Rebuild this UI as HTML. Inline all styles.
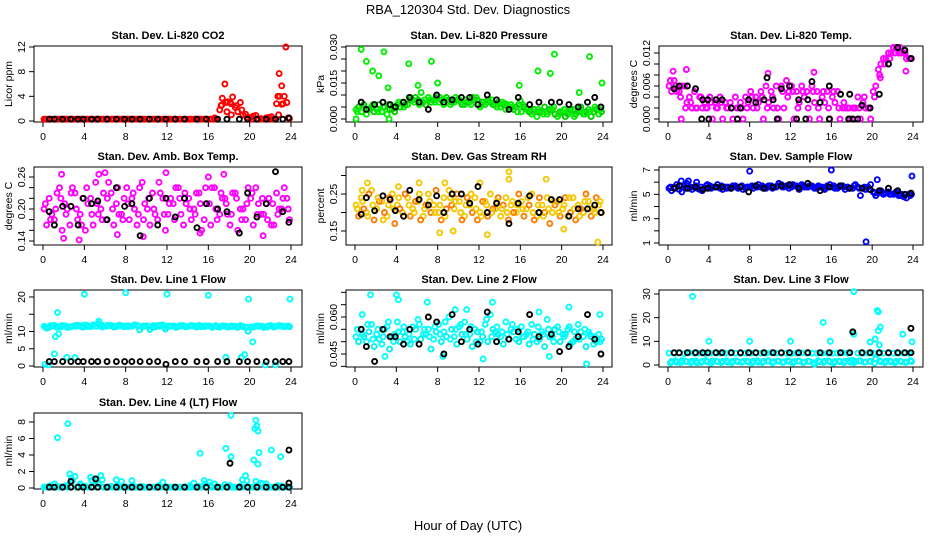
<!DOCTYPE html>
<html><head><meta charset="utf-8"><title>RBA_120304 Std. Dev. Diagnostics</title>
<style>
html,body{margin:0;padding:0;background:#fff;}
svg{display:block;font-family:"Liberation Sans",Arial,sans-serif;}
.t{font-size:11px;font-weight:bold;text-anchor:middle;}
.tk{font-size:10.5px;text-anchor:middle;}
</style></head>
<body>
<svg id="chart" width="936" height="540" viewBox="0 0 936 540" xmlns="http://www.w3.org/2000/svg">
<text x="468" y="14" font-size="13" text-anchor="middle">RBA_120304  Std. Dev. Diagnostics</text>
<text x="468" y="530" font-size="13" text-anchor="middle">Hour of Day (UTC)</text>
</svg>
<script>
// shared time arrays (hours)
const hoursA=[0.1,0.6,1.1,1.6,2.1,2.6,3.1,3.6,4.1,4.6,5.1,5.6,6.1,6.6,7.1,7.6,8.1,8.6,9.1,9.6,10.1,10.6,11.1,11.6,12.1,12.6,13.1,13.6,14.1,14.6,15.1,15.6,16.1,16.6,17.1,17.6,18.1,18.6,19.1,19.6,20.1,20.6,21.1,21.6,22.1,22.6,23.1,23.6];
const hoursB=[0.35,0.85,1.35,1.85,2.35,2.85,3.35,3.85,4.35,4.85,5.35,5.85,6.35,6.85,7.35,7.85,8.35,8.85,9.35,9.85,10.35,10.85,11.35,11.85,12.35,12.85,13.35,13.85,14.35,14.85,15.35,15.85,16.35,16.85,17.35,17.85,18.35,18.85,19.35,19.85,20.35,20.85,21.35,21.85,22.35,22.85,23.35,23.85];
const hoursC=[0.23,0.73,1.23,1.73,2.23,2.73,3.23,3.73,4.23,4.73,5.23,5.73,6.23,6.73,7.23,7.73,8.23,8.73,9.23,9.73,10.23,10.73,11.23,11.73,12.23,12.73,13.23,13.73,14.23,14.73,15.23,15.73,16.23,16.73,17.23,17.73,18.23,18.73,19.23,19.73,20.23,20.73,21.23,21.73,22.23,22.73,23.23,23.73];
const hoursBlack=[0.6,1.1,1.9,2.7,3.4,3.9,4.7,5.3,6.2,7.1,7.9,8.6,9.4,10.3,11.1,11.9,12.8,13.7,14.9,15.8,16.9,17.8,19.0,19.8,20.7,21.6,22.5,23.2,23.8];
const xTicks=[0,4,8,12,16,20,24];

// CO2
const co2A=[0.3,0.3,0.3,0.3,0.3,0.3,0.3,0.3,0.3,0.3,0.3,0.3,0.3,0.3,0.3,0.3,0.3,0.3,0.3,0.3,0.3,0.3,0.3,0.3,0.3,0.3,0.3,0.3,0.3,0.3,0.3,0.3,0.3,0.5,1.8,6.0,3.0,2.2,3.0,1.1,0.6,0.9,0.4,0.5,0.7,2.8,5.7,3.0];
const co2B=[0.3,0.3,0.3,0.3,0.3,0.3,0.3,0.3,0.3,0.3,0.3,0.3,0.3,0.3,0.3,0.3,0.3,0.3,0.3,0.3,0.3,0.3,0.3,0.3,0.3,0.3,0.3,0.3,0.3,0.3,0.3,0.3,0.3,0.3,3.7,3.1,3.9,1.5,1.0,0.3,0.8,0.3,0.3,0.6,0.3,7.7,4.0,0.4];
const co2C=[0.3,0.3,0.3,0.3,0.3,0.3,0.3,0.3,0.3,0.3,0.3,0.3,0.3,0.3,0.3,0.3,0.3,0.3,0.3,0.3,0.3,0.3,0.3,0.3,0.3,0.3,0.3,0.3,0.3,0.3,0.3,0.3,0.3,0.3,2.5,3.0,1.0,2.5,1.8,0.6,0.3,0.3,0.3,0.3,0.3,4.0,2.8,0.5];
const co2OutT=[17.3,17.8,18.2,22.9,23.1,23.5,22.8];
const co2OutV=[2.6,1.5,2.8,4.0,2.7,12.0,1.0];
const co2Black=[0.3,0.3,0.3,0.3,0.3,0.3,0.3,0.3,0.3,0.3,0.3,0.3,0.3,0.3,0.3,0.3,0.3,0.3,0.3,0.3,0.3,0.3,0.3,0.3,0.3,0.3,0.3,0.3,0.5];

// Pressure
const presA=[.004,.003,.002,.005,.004,.003,.002,.004,.006,.007,.006,.008,.008,.007,.009,.008,.007,.006,.008,.007,.008,.006,.007,.008,.005,.006,.007,.006,.005,.004,.006,.005,.003,.004,.002,.001,.003,.002,.004,.001,.003,.002,.004,.003,.002,.004,.003,.002];
const presB=[.005,.006,.004,.003,.006,.005,.004,.003,.005,.006,.008,.009,.007,.006,.007,.009,.008,.009,.007,.008,.006,.007,.009,.008,.007,.008,.006,.007,.006,.005,.004,.006,.005,.003,.004,.003,.005,.004,.002,.003,.001,.004,.002,.005,.003,.001,.004,.003];
const presC=[.003,.005,.004,.006,.003,.005,.006,.005,.007,.005,.009,.007,.006,.008,.008,.007,.009,.008,.006,.009,.007,.008,.006,.009,.006,.007,.008,.005,.007,.006,.005,.003,.006,.004,.003,.004,.002,.003,.005,.002,.004,.003,.001,.004,.002,.003,.005,.004];
const presOutT=[0.6,1.1,1.7,2.3,2.8,3.2,5.2,6.1,6.4,7.4,8.0,15.9,17.7,18.9,19.3,21.7,22.7,23.9,16.0,0.1,3.3,14.5];
const presOutV=[.029,.024,.020,.018,.028,.013,.023,.014,.011,.024,.015,.014,.020,.019,.027,.011,.026,.015,.0075,0,0,.0065];
const presBlack=[.007,.004,.006,.007,.006,.005,.007,.009,.007,.004,.010,.007,.008,.009,.009,.006,.010,.008,.004,.009,.006,.007,.007,.007,.006,.005,.007,.009,.005];

// Li-820 temp
const tempA=[.006,.007,.005,.006,.004,.005,.004,.003,.004,.003,.004,.003,.003,.004,.003,.004,.005,.004,.005,.006,.005,.006,.006,.007,.006,.005,.006,.005,.006,.005,.004,.005,.004,.005,.002,.002,.002,.004,.003,.002,.005,.009,.011,.012,.013,.012,.012,.011];
const tempB=[.005,.005,.006,.003,.002,.002,.002,.002,0,.002,0,.002,0,.002,0,.003,.002,.003,0,.003,.002,0,.002,.005,0,.003,.004,0,.003,0,.003,0,.003,0,.002,0,.002,0,.002,0,.006,.010,.011,.012,.013,.012,.011,.011];
const tempC=[.007,.006,.004,.002,.003,.002,.004,.002,.003,.002,.003,.002,.002,.002,.002,.002,.004,.002,.004,.002,.004,.002,.005,.004,.005,.002,.005,.002,.005,.002,.005,.002,.005,.002,.003,.002,.002,.002,.004,.002,.004,.008,.010,.011,.012,.013,.012,.011];
const tempOutT=[0.5,1.3,1.8,9.8,14.3,22.1,23.3,20.8];
const tempOutV=[.0087,0,.009,.0083,.0085,.013,.0087,.0075];
const tempBlack=[.0055,.006,.006,.0055,.0035,.0035,.0035,.0035,.002,.002,.0035,.003,.0035,.0035,.0055,.006,.0035,.0035,.003,.006,.0045,.0045,.0025,.002,.0045,.010,.013,.0125,.011];
const tempBlackOutT=[3.3,4.0,6.8,10.7,12.6,13.5,15.8,17.7,18.1,18.6,9.7,14.1];
const tempBlackOutV=[0,0,0,0,0,0,0,0,0,0,.0075,.0068];

// Ambient box temp
const ambA=[.20,.22,.18,.24,.21,.17,.23,.19,.16,.22,.25,.20,.18,.23,.21,.19,.24,.22,.17,.25,.20,.23,.18,.22,.19,.21,.24,.17,.22,.20,.23,.18,.21,.24,.19,.22,.17,.23,.20,.18,.22,.24,.19,.21,.17,.23,.20,.22];
const ambB=[.17,.19,.23,.16,.20,.24,.18,.22,.21,.17,.19,.23,.25,.17,.19,.22,.18,.20,.24,.21,.17,.19,.23,.16,.22,.24,.19,.21,.18,.23,.16,.21,.24,.18,.22,.19,.23,.16,.20,.24,.17,.21,.19,.22,.17,.20,.24,.18];
const ambC=[.21,.18,.20,.22,.19,.23,.20,.17,.24,.19,.21,.18,.22,.20,.24,.18,.21,.23,.19,.18,.22,.20,.25,.19,.21,.18,.22,.23,.20,.19,.21,.24,.17,.20,.23,.21,.19,.22,.18,.21,.23,.19,.22,.18,.21,.19,.22,.20];
const ambOutT=[1.8,5.4,6.0,11.9,16.0,17.5,3.5,7.2,9.7,15.2,21.3,2.0];
const ambOutV=[.265,.265,.268,.268,.26,.265,.142,.152,.148,.155,.15,.145];
const ambBlack=[.195,.17,.205,.205,.17,.22,.21,.215,.18,.24,.205,.21,.15,.22,.17,.22,.185,.22,.165,.21,.20,.195,.155,.23,.185,.21,.27,.195,.175];

// Gas stream RH
const rhA=[.22,.24,.20,.26,.21,.23,.19,.25,.22,.20,.24,.21,.23,.19,.25,.22,.20,.24,.26,.21,.23,.19,.22,.24,.20,.23,.25,.21,.19,.24,.22,.20,.23,.21,.25,.19,.22,.24,.20,.23,.21,.19,.24,.22,.20,.23,.21,.22];
const rhB=[.19,.21,.25,.18,.23,.20,.24,.17,.21,.25,.19,.23,.18,.22,.20,.26,.18,.21,.22,.25,.18,.24,.20,.18,.23,.19,.21,.24,.22,.18,.20,.25,.19,.22,.18,.24,.20,.17,.22,.19,.24,.20,.18,.21,.25,.19,.24,.20];
const rhC=[.21,.23,.19,.22,.24,.18,.22,.21,.24,.19,.22,.20,.25,.21,.23,.20,.22,.19,.24,.23,.20,.22,.25,.21,.19,.22,.20,.23,.21,.20,.23,.22,.21,.24,.20,.22,.19,.21,.23,.20,.22,.24,.21,.19,.23,.21,.20,.23];
const rhOutT=[1.2,4.2,6.2,8.7,12.1,14.9,14.9,18.5,23.5,8.2,9.5,12.8,20.2,0.7];
const rhOutV=[.28,.27,.28,.28,.28,.31,.29,.29,.12,.145,.15,.14,.155,.26];
const rhBlack=[.195,.24,.205,.245,.235,.205,.19,.26,.235,.22,.245,.20,.25,.25,.225,.27,.20,.225,.17,.225,.245,.20,.235,.235,.19,.21,.21,.22,.20];

// Sample flow
const sfA=[5.5,5.6,5.4,5.7,5.5,5.6,5.4,5.5,5.7,5.6,5.5,5.6,5.5,5.7,5.6,5.5,5.6,5.7,5.6,5.5,5.7,5.6,5.8,5.7,5.6,5.7,5.8,5.6,5.7,5.5,5.6,5.7,5.6,5.5,5.7,5.6,5.5,5.6,5.5,5.6,5.2,5.1,5.0,5.2,5.0,4.9,4.8,5.0];
const sfB=[5.3,5.8,5.2,5.9,5.4,5.5,5.3,5.8,5.6,5.8,5.4,5.6,5.7,5.5,5.4,5.6,5.5,5.8,5.5,5.7,5.6,5.9,5.6,5.5,5.7,5.4,5.6,5.7,5.5,5.6,5.4,5.8,5.5,5.7,5.4,5.5,5.8,4.9,5.4,5.8,4.9,5.3,5.1,5.0,5.2,5.0,4.7,5.0];
const sfC=[5.6,5.5,5.7,5.5,5.6,5.7,5.6,5.7,5.5,5.6,5.7,5.5,5.6,5.6,5.7,5.6,5.7,5.6,5.7,5.6,5.5,5.7,5.6,5.7,5.8,5.6,5.7,5.6,5.6,5.7,5.5,5.6,5.7,5.6,5.6,5.5,5.7,5.5,5.6,5.4,5.1,5.2,5.1,5.0,5.1,4.9,5.0,4.9];
const sfOutT=[8.0,16.0,19.4,23.9,20.5,1.3,2.0,2.8];
const sfOutV=[6.9,7.0,1.1,6.5,6.2,6.1,6.1,6.0];
const sfBlack=[5.5,5.7,5.5,5.6,5.4,5.5,5.6,5.6,5.5,5.6,5.2,5.7,5.5,5.6,5.7,5.8,5.5,5.9,5.3,5.6,5.7,5.5,5.5,5.4,5.3,5.5,5.3,5.0,5.1];

// Line 1 flow
const l1A=[11.5,11.2,11.8,11.4,11.6,11.3,11.7,11.5,11.9,11.4,11.6,12.0,11.5,11.8,11.4,11.7,11.6,11.5,11.8,11.4,11.6,11.3,11.7,11.9,11.5,11.6,11.4,11.7,11.5,11.6,11.8,11.4,11.6,11.5,11.3,11.6,11.4,11.5,11.7,11.3,11.2,11.5,11.6,11.4,11.7,11.5,11.6,11.5];
const l1B=[11.0,11.6,11.3,11.7,11.2,11.5,11.8,11.3,11.6,11.9,12.3,11.5,11.7,11.3,11.8,11.4,11.6,11.9,10.5,11.6,10.6,11.3,11.8,10.7,11.5,11.2,11.6,11.4,11.7,11.3,11.5,11.6,11.2,11.4,11.6,11.3,11.5,11.2,11.4,10.1,11.3,11.5,11.2,11.6,11.3,11.7,11.4,11.4];
const l1C=[11.4,11.7,11.5,11.3,11.6,11.4,11.5,11.7,11.4,11.6,11.5,11.3,11.8,11.5,11.6,11.5,11.4,11.7,11.5,11.6,11.4,11.7,11.5,11.3,11.6,11.5,11.7,11.4,11.6,11.5,11.4,11.6,11.5,11.7,11.4,11.5,11.6,11.3,11.5,11.2,11.4,11.6,11.5,11.3,11.5,11.6,11.4,11.6];
const l1OutT=[1.1,1.4,1.5,1.2,4.0,8.0,12.0,16.0,19.9,23.9,20.3,2.3,3.1,17.7,19.2,19.5,5.4,0.2,0.5,21.5,22.5];
const l1OutV=[3.5,15.5,9.3,8.5,20.8,21.2,20.8,20.5,19.4,19.4,7.0,2.5,2.4,2.5,2.5,3.3,13.0,0.5,0.3,0.3,0.3];
const l1Black=[1.3,1.3,1.3,1.3,1.3,1.3,1.3,1.3,1.3,1.3,1.3,1.3,1.3,1.3,1.3,0.5,1.3,1.3,1.3,1.3,1.3,1.3,1.3,1.3,1.3,1.3,1.3,1.3,1.3];

// Line 2 flow
const l2A=[.052,.055,.050,.057,.053,.049,.056,.052,.058,.054,.050,.056,.059,.053,.055,.051,.057,.054,.060,.052,.056,.058,.053,.055,.050,.057,.061,.054,.052,.058,.055,.051,.056,.053,.057,.050,.054,.059,.052,.056,.053,.055,.050,.057,.052,.054,.049,.053];
const l2B=[.050,.052,.054,.048,.051,.055,.047,.053,.050,.052,.049,.055,.051,.053,.047,.054,.050,.052,.055,.049,.053,.051,.048,.054,.052,.050,.055,.053,.049,.051,.054,.050,.052,.049,.053,.051,.048,.052,.055,.050,.053,.049,.051,.054,.048,.052,.050,.051];
const l2C=[.055,.053,.057,.051,.055,.052,.058,.050,.054,.056,.053,.051,.057,.055,.052,.056,.053,.058,.051,.055,.057,.053,.056,.050,.054,.059,.052,.056,.054,.053,.057,.055,.052,.054,.051,.056,.053,.055,.050,.054,.052,.056,.054,.051,.055,.053,.052,.050];
const l2OutT=[1.5,4.0,4.2,7.0,13.3,0.7,9.7,10.8,17.8,20.7,22.4,23.7,12.4,2.9,8.5,18.8];
const l2OutV=[.069,.069,.067,.066,.066,.061,.063,.063,.062,.064,.041,.061,.043,.044,.044,.044];
const l2Black=[.055,.048,.042,.055,.052,.052,.049,.055,.049,.060,.058,.045,.061,.050,.055,.049,.062,.050,.051,.054,.061,.052,.053,.046,.048,.052,.061,.051,.045];

// Line 3 flow
const l3A=[5,5,5,4.8,5.2,5,5,4.9,5,5.1,5,5,5.2,5,4.9,5,5,5.1,5,5,5.2,5,5,5,4.9,5,5.1,5,5,5,5,5,5,5,5.2,5,2,5,5,5,5,5,5,5,5,5,5,5];
const l3B=[1.5,1.2,1.8,1.4,1.6,1.0,1.5,1.3,1.7,1.4,1.5,1.2,1.6,1.4,1.5,1.3,1.6,1.2,1.5,1.7,1.4,1.6,1.3,1.5,1.4,1.6,1.2,1.5,0.3,1.4,1.6,1.3,1.5,1.4,1.6,1.2,1.5,1.7,1.3,1.5,2.5,1.4,1.6,1.3,1.5,1.4,1.2,1.5];
const l3C=[0.8,1.8,1.0,1.6,0.9,1.7,1.1,1.9,0.8,1.6,1.0,1.8,0.9,1.7,1.2,1.6,0.8,1.8,1.0,1.7,0.9,1.6,1.1,1.8,0.8,1.7,1.0,1.6,0.9,1.8,1.1,1.7,0.8,1.6,1.0,1.8,0.9,1.7,1.2,1.6,0.8,1.8,1.0,1.7,0.9,1.6,1.1,1.8];
const l3OutT=[2.4,4.0,8.0,12.0,15.2,15.9,18.2,18.2,19.8,20.3,20.5,20.6,20.7,20.8,20.6,23.0,23.9];
const l3OutV=[29,10,10,10,18,10,31,13,9.7,11,23,22.5,8.5,16,14.5,13,9.8];
const l3Black=[5.2,5.2,5.2,5.2,5.2,5.2,5.2,5.2,5.2,5.2,5.2,5.2,5.2,5.2,5.2,5.2,5.2,5.2,5.2,5.2,5.2,5.2,5.2,5.2,5.2,5.2,5.2,5.2,5.2];
const l3BlackOutT=[18.1,23.8];
const l3BlackOutV=[14,15.5];

// Line 4 flow
const l4A=[0.1,0.2,0.5,0.1,0.2,1.7,1.4,0.5,0.2,1.3,0.8,1.5,0.1,0.2,1.0,0.8,0.1,0.9,0.1,0.2,0.1,0.1,0.1,0.7,0.1,0.1,0.1,0.1,0.1,0.6,0.2,0.9,0.7,0.5,0.1,0.4,0.3,0.1,0.2,1.5,0.1,0.8,0.6,0.5,0.1,0.1,0.2,0.1];
const l4B=[0.1,0.1,0.2,0.1,0.1,0.9,0.1,0.1,0.1,0.1,0.5,0.1,0.1,0.1,0.1,0.1,0.1,0.1,0.1,0.1,0.1,0.1,0.1,0.1,0.1,0.1,0.1,0.1,0.1,0.1,0.1,0.1,0.1,0.1,0.1,0.1,0.1,0.1,0.1,0.1,0.1,0.1,0.1,0.1,0.1,0.1,0.1,0.1];
const l4C=[0.1,0.3,0.1,0.1,0.3,1.2,0.1,0.3,0.1,0.9,0.1,1.0,0.1,0.1,0.3,0.1,0.1,0.3,0.1,0.1,0.1,0.1,0.3,0.1,0.1,0.1,0.1,0.1,0.3,0.1,0.1,0.5,0.3,0.1,0.1,0.1,0.1,0.1,0.1,0.9,0.1,0.3,0.5,0.1,0.1,0.3,0.1,0.1];
const l4OutT=[1.4,2.4,15.2,17.7,18.2,18.2,19.3,20.4,20.5,20.6,20.7,20.8,20.9,20.8,22.1,23.0];
const l4OutV=[6.1,7.8,4.2,4.8,8.8,3.8,1.0,3.4,7.2,8.2,7.5,6.9,4.3,2.9,4.6,3.8];
const l4Black=[0.1,0.1,0.1,0.1,0.1,0.1,0.1,0.1,0.1,0.1,0.1,0.1,0.1,0.1,0.1,0.1,0.1,0.1,0.1,0.1,0.1,0.1,0.1,0.1,0.1,0.1,0.1,0.1,0.1];
const l4BlackOutT=[2.7,5.1,18.1,23.8,23.8];
const l4BlackOutV=[0.8,1.1,3.0,4.6,0.6];

// y tick values / labels per panel
const co2Ticks=[0,4,8,12], co2Labels=["0","4","8","12"];
const presTicks=[0,.005,.010,.015,.020,.025,.030], presLabels=["0.000","","","0.015","","","0.030"];
const tempTicks=[0,.002,.004,.006,.008,.010,.012], tempLabels=["0.000","","","0.006","","","0.012"];
const ambTicks=[.14,.16,.18,.20,.22,.24,.26], ambLabels=["0.14","","","0.20","","","0.26"];
const rhTicks=[.15,.20,.25,.30], rhLabels=["0.15","","0.25",""];
const sfTicks=[1,2,3,4,5,6,7], sfLabels=["1","","3","","5","","7"];
const l1Ticks=[0,5,10,15,20], l1Labels=["0","5","10","","20"];
const l2Ticks=[.040,.045,.050,.055,.060,.065,.070], l2Labels=["","0.045","","","0.060","",""];
const l3Ticks=[0,10,20,30], l3Labels=["0","10","20","30"];
const l4Ticks=[0,2,4,6,8], l4Labels=["0","2","4","6","8"];

const NS="http://www.w3.org/2000/svg";
const svg=document.getElementById('chart');
function mk(tag,attrs,parent){const e=document.createElementNS(NS,tag);for(const k in attrs)e.setAttribute(k,attrs[k]);(parent||svg).appendChild(e);return e;}

const cols=[{l:34,r:302,x0:43,x24:291},{l:346,r:612,x0:355,x24:603},{l:659,r:923,x0:668,x24:913}];
const rows=[{t:46,b:122},{t:167,b:245},{t:290,b:367},{t:413,b:489}];

const panels=[
 {name:'co2',title:'Stan. Dev. Li-820 CO2',ylab:'Licor ppm',c:0,r:0,col:'#ff0000',col2:'#ff0000',A:co2A,B:co2B,C:co2C,oT:co2OutT,oV:co2OutV,K:co2Black,ticks:co2Ticks,labels:co2Labels,v1:0,p1:121,v2:12,p2:47},
 {name:'pressure',title:'Stan. Dev. Li-820 Pressure',ylab:'kPa',c:1,r:0,col:'#00ee00',col2:'#00cc00',A:presA,B:presB,C:presC,oT:presOutT,oV:presOutV,K:presBlack,ticks:presTicks,labels:presLabels,v1:0,p1:119,v2:.030,p2:47},
 {name:'li820-temp',title:'Stan. Dev. Li-820 Temp.',ylab:'degrees C',c:2,r:0,col:'#ff00ff',col2:'#ff00ff',A:tempA,B:tempB,C:tempC,oT:tempOutT,oV:tempOutV,K:tempBlack,kT:tempBlackOutT,kV:tempBlackOutV,ticks:tempTicks,labels:tempLabels,v1:0,p1:119,v2:.012,p2:53},
 {name:'amb-box-temp',title:'Stan. Dev. Amb. Box Temp.',ylab:'degrees C',c:0,r:1,col:'#ff00ff',col2:'#ff00ff',A:ambA,B:ambB,C:ambC,oT:ambOutT,oV:ambOutV,K:ambBlack,ticks:ambTicks,labels:ambLabels,v1:.14,p1:241,v2:.26,p2:177},
 {name:'gas-stream-rh',title:'Stan. Dev. Gas Stream RH',ylab:'percent',c:1,r:1,col:'#f5c800',col2:'#ff7a00',A:rhA,B:rhB,C:rhC,oT:rhOutT,oV:rhOutV,K:rhBlack,ticks:rhTicks,labels:rhLabels,v1:.15,p1:231,v2:.25,p2:194},
 {name:'sample-flow',title:'Stan. Dev. Sample Flow',ylab:'ml/min',c:2,r:1,col:'#0000ff',col2:'#0000ee',A:sfA,B:sfB,C:sfC,oT:sfOutT,oV:sfOutV,K:sfBlack,ticks:sfTicks,labels:sfLabels,v1:1,p1:243,v2:7,p2:170},
 {name:'line1-flow',title:'Stan. Dev. Line 1 Flow',ylab:'ml/min',c:0,r:2,col:'#00ffff',col2:'#00f0f0',A:l1A,B:l1B,C:l1C,oT:l1OutT,oV:l1OutV,K:l1Black,ticks:l1Ticks,labels:l1Labels,v1:0,p1:366,v2:20,p2:297},
 {name:'line2-flow',title:'Stan. Dev. Line 2 Flow',ylab:'ml/min',c:1,r:2,col:'#00ffff',col2:'#00f0f0',A:l2A,B:l2B,C:l2C,oT:l2OutT,oV:l2OutV,K:l2Black,ticks:l2Ticks,labels:l2Labels,v1:.045,p1:354,v2:.060,p2:317},
 {name:'line3-flow',title:'Stan. Dev. Line 3 Flow',ylab:'ml/min',c:2,r:2,col:'#00ffff',col2:'#00f0f0',A:l3A,B:l3B,C:l3C,oT:l3OutT,oV:l3OutV,K:l3Black,kT:l3BlackOutT,kV:l3BlackOutV,ticks:l3Ticks,labels:l3Labels,v1:0,p1:365,v2:30,p2:294},
 {name:'line4-flow',title:'Stan. Dev. Line 4 (LT) Flow',ylab:'ml/min',c:0,r:3,col:'#00ffff',col2:'#00f0f0',A:l4A,B:l4B,C:l4C,oT:l4OutT,oV:l4OutV,K:l4Black,kT:l4BlackOutT,kV:l4BlackOutV,ticks:l4Ticks,labels:l4Labels,v1:0,p1:488,v2:8,p2:422}
];

panels.forEach(p=>{
  const C=cols[p.c], R=rows[p.r];
  const g=mk('g',{});
  
  
  const xs=t=>C.x0+t/24*(C.x24-C.x0);
  const ys=v=>p.p1+(v-p.v1)*(p.p2-p.p1)/(p.v2-p.v1);
  const title=mk('text',{x:(C.l+C.r)/2,y:R.t-7,class:'t'},g);title.textContent=p.title;
  
  
  const box=mk('rect',{x:C.l,y:R.t,width:C.r-C.l,height:R.b-R.t,fill:'none',stroke:'#000','stroke-width':1},g);
  
  
  const xa=mk('g',{},g);
  
  
  mk('line',{x1:xs(0),x2:xs(24),y1:R.b,y2:R.b,stroke:'#000'},xa);
  xTicks.forEach(t=>{
    mk('line',{x1:xs(t),x2:xs(t),y1:R.b,y2:R.b+5,stroke:'#000'},xa);
    const tx=mk('text',{x:xs(t),y:R.b+18,class:'tk'},xa);tx.textContent=String(t);
  });
  const ya=mk('g',{},g);
  
  
  p.ticks.forEach((v,i)=>{
    const y=ys(v);
    mk('line',{x1:C.l-5,x2:C.l,y1:y,y2:y,stroke:'#000'},ya);
    if(p.labels[i]){const tx=mk('text',{x:C.l-9,y:y,class:'tk',transform:`rotate(-90 ${C.l-9} ${y})`},ya);tx.textContent=p.labels[i];}
  });
  const yl=mk('text',{x:C.l-22,y:(R.t+R.b)/2,'font-size':'10.5','text-anchor':'middle',transform:`rotate(-90 ${C.l-22} ${(R.t+R.b)/2})`},g);
  yl.textContent=p.ylab;
  
  
  const pts=mk('g',{fill:'none','stroke-width':1.9},g);
  
  
  const dot=(t,v,col)=>{const c=mk('circle',{cx:xs(t),cy:ys(v),r:2.5,stroke:col},pts);
    
    };
  p.A.forEach((v,i)=>dot(hoursA[i],v,p.col));
  p.B.forEach((v,i)=>dot(hoursB[i],v,p.col2));
  p.C.forEach((v,i)=>dot(hoursC[i],v,p.col));
  p.oV.forEach((v,i)=>dot(p.oT[i],v,p.col));
  p.K.forEach((v,i)=>dot(hoursBlack[i],v,'#000'));
  if(p.kV)p.kV.forEach((v,i)=>dot(p.kT[i],v,'#000'));
});
</script>
</body></html>
